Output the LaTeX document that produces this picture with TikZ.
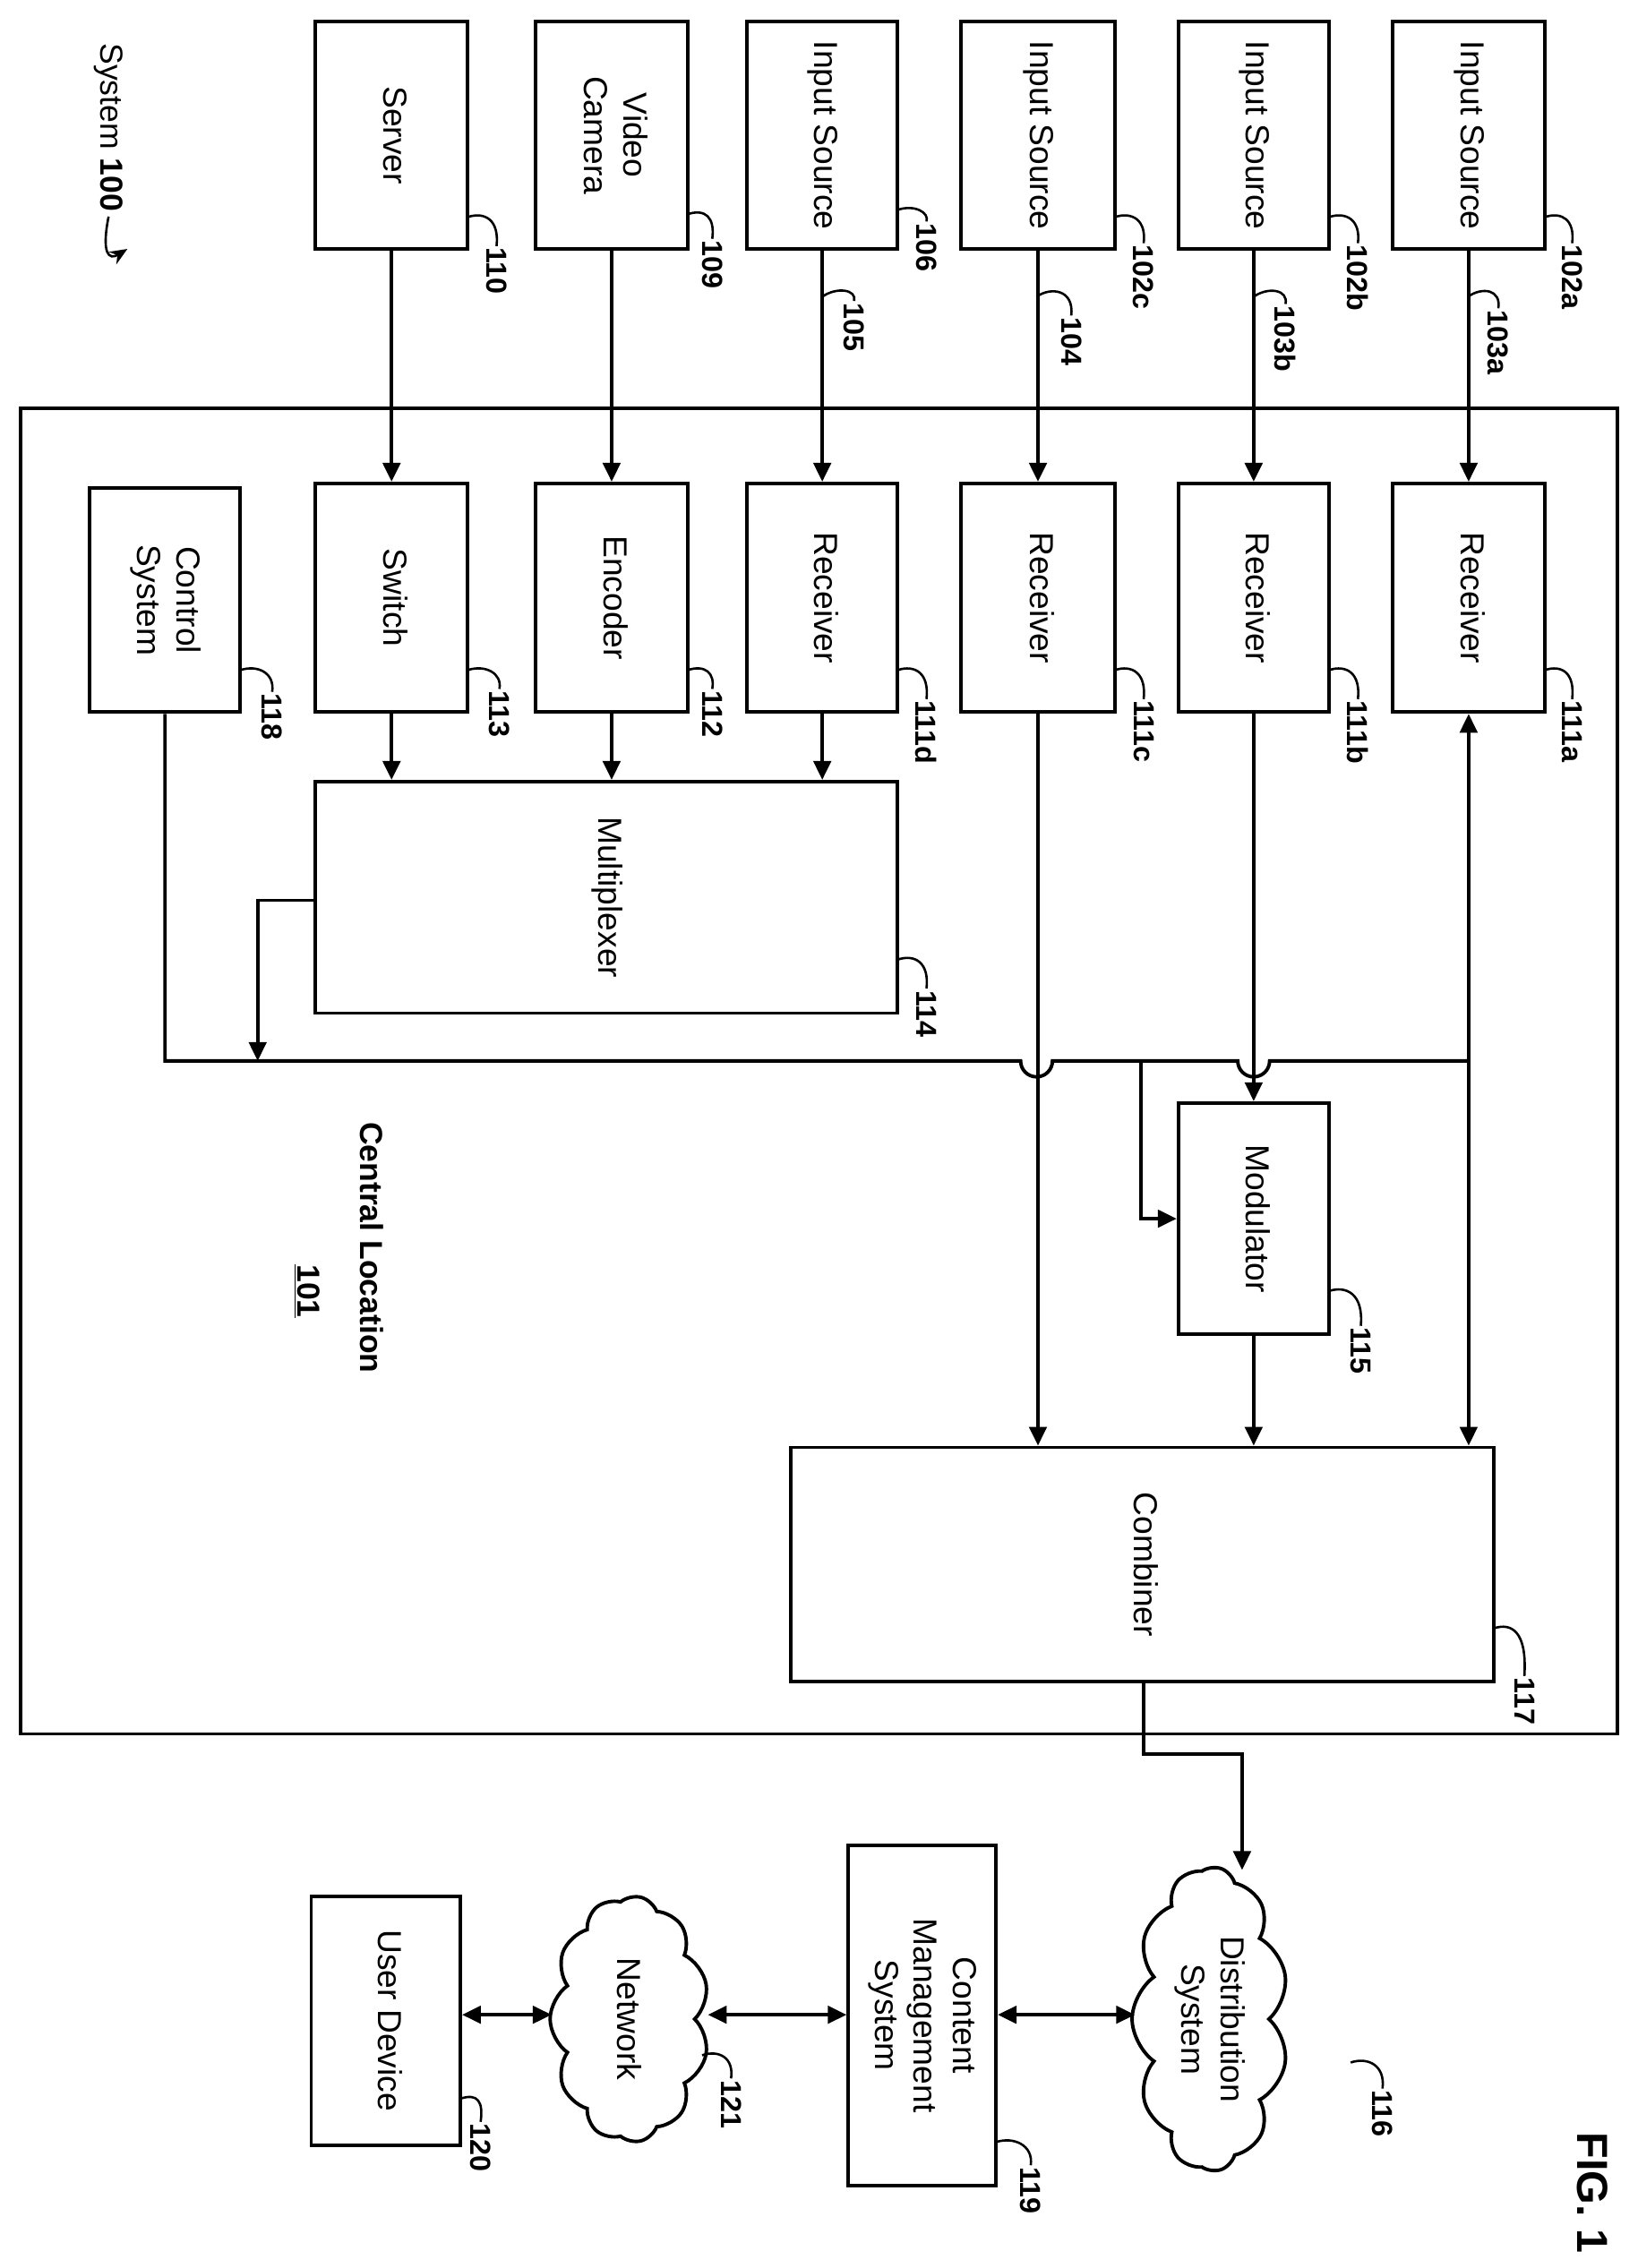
\documentclass[tikz,border=0pt]{standalone}
\usepackage{fontspec}
\setmainfont{Liberation Sans}
\usetikzlibrary{arrows.meta,shapes.symbols}
\begin{document}
\begin{tikzpicture}[x=1pt,y=-1pt,
  box/.style={draw,line width=2.4pt,inner sep=0pt,font=\fontsize{23}{27}\selectfont},
  num/.style={rotate=-90,font=\bfseries\fontsize{20}{22}\selectfont,inner sep=1pt},
  lead/.style={line width=1.6pt},
  ln/.style={line width=2.4pt},
  arr/.style={line width=2.4pt,-{Triangle[length=13pt,width=12pt]}},
  darr/.style={line width=2.4pt,{Triangle[length=13pt,width=12pt]}-{Triangle[length=13pt,width=12pt]}},
  cl/.style={draw,cloud,cloud puffs=11,cloud puff arc=110,line width=2.4pt,inner sep=0pt,outer sep=0pt},
  ct/.style={font=\fontsize{23}{27}\selectfont,align=center,rotate=-90}]
\useasboundingbox (0,0) rectangle (1131,1567);
\newcommand{\rt}[1]{\rotatebox{-90}{\begin{tabular}{@{}c@{}}#1\end{tabular}}}
% frame
\node[draw,line width=2.4pt,minimum width=1103pt,minimum height=916pt] (frame) at (565.5,740) {};
% top boxes
\node[box,minimum width=105pt,minimum height=157pt] (server) at (270.5,93.5) {\rt{Server}};
\node[box,minimum width=105pt,minimum height=157pt] (cam) at (422.5,93.5) {\rt{Video\\Camera}};
\node[box,minimum width=104pt,minimum height=157pt] (is106) at (568,93.5) {\rt{Input Source}};
\node[box,minimum width=106pt,minimum height=157pt] (is102c) at (717,93.5) {\rt{Input Source}};
\node[box,minimum width=104pt,minimum height=157pt] (is102b) at (866,93.5) {\rt{Input Source}};
\node[box,minimum width=105pt,minimum height=157pt] (is102a) at (1014.5,93.5) {\rt{Input Source}};
% second row
\node[box,minimum width=105pt,minimum height=158pt] (switch) at (270.5,413) {\rt{Switch}};
\node[box,minimum width=105pt,minimum height=158pt] (enc) at (422.5,413) {\rt{Encoder}};
\node[box,minimum width=104pt,minimum height=158pt] (r111d) at (568,413) {\rt{Receiver}};
\node[box,minimum width=106pt,minimum height=158pt] (r111c) at (717,413) {\rt{Receiver}};
\node[box,minimum width=104pt,minimum height=158pt] (r111b) at (866,413) {\rt{Receiver}};
\node[box,minimum width=105pt,minimum height=158pt] (r111a) at (1014.5,413) {\rt{Receiver}};
\node[box,minimum width=104pt,minimum height=155pt] (ctrl) at (114,414.5) {\rt{Control\\System}};
\node[box,minimum width=402pt,minimum height=160pt] (mux) at (419,620) {\rt{Multiplexer}};
\node[box,minimum width=104pt,minimum height=160pt] (mod) at (866,842) {\rt{Modulator}};
\node[box,minimum width=486pt,minimum height=162pt] (comb) at (789,1081) {\rt{Combiner}};
% bottom
\node[cl,minimum width=210pt,minimum height=108pt,rotate=90] (dist) at (836,1395) {};
\node[ct] (distt) at (836,1395) {Distribution\\System};
\node[box,minimum width=102pt,minimum height=235pt] (cms) at (637,1392.5) {\rt{Content\\Management\\System}};
\node[cl,minimum width=170pt,minimum height=110pt,rotate=90] (net) at (435,1395) {};
\node[ct] (nett) at (435,1395) {Network};
\node[box,minimum width=103pt,minimum height=172pt] (ud) at (266.5,1396) {\rt{User Device}};
% texts
\node[rotate=-90,font=\fontsize{22}{26}\selectfont] (sys) at (75,88) {System \textbf{100}};
\draw[lead,-{Stealth[length=12pt,width=10pt]}] (sys.east) .. controls (70,175) and (75,180) .. (88,172);
\node[rotate=-90,font=\bfseries\fontsize{22}{26}\selectfont] (cen) at (257,862) {Central Location};
\node[rotate=-90,font=\bfseries\fontsize{22}{26}\selectfont] (c101) at (212,892) {\underline{101}};
\node[rotate=-90,font=\bfseries\fontsize{30}{34}\selectfont] (fig) at (1100,1515) {FIG. 1};
% arrows top to second
\foreach \a/\b in {server/switch,cam/enc,is106/r111d,is102c/r111c,is102b/r111b,is102a/r111a}
  \draw[arr] (\a) -- (\b);
\foreach \a in {switch,enc,r111d}
  \draw[arr] (\a) -- (\a |- mux.north);
% bus
\draw[ln] (ctrl.south) -- (114,733) -- (705,733) arc[start angle=180,end angle=0,radius=11] -- (855,733) arc[start angle=180,end angle=0,radius=11] -- (1014,733);
\draw[arr] (r111c) -- (r111c |- comb.north);
\draw[arr] (r111b) -- (mod);
\draw[darr] (r111a) -- (r111a |- comb.north);
\coordinate (bt) at (788,733);
\draw[arr] (bt) -- (788,842) -- (mod.west |- 0,842);
\draw[arr] (mux.west |- 0,622) -- (178,622) -- (178,733);
\draw[arr] (mod) -- (mod |- comb.north);
\draw[arr] (comb.south -| 790,0) -- (790,1212) -- (858,1212) -- (858,1292);
\draw[darr] (cms.east |- 0,1392) -- (784,1392);
\draw[darr] (cms.west |- 0,1392) -- (489,1392);
\draw[darr] (ud.east |- 0,1392) -- (381,1392);
% labels
\foreach \n/\x/\y/\sx/\sy in {110/343/192/323/150, 109/492/187/475/148, 106/640/175/620/145, 102c/790/190/770/150, 102b/938/190/918/150, 102a/1086/190/1067/150,
  111d/640/505/620/463, 111c/790/505/770/463, 111b/938/505/918/463, 111a/1086/505/1067/463, 112/492/498/475/463, 113/345/498/323/463, 118/188/500/166/463,
  114/640/705/620/663, 115/940/938/918/892, 117/1053/1180/1032/1125, 116/955/1465/933/1425, 119/712/1518/688/1480, 121/505/1458/485/1420, 120/332/1488/318/1450}
{
  \node[num,anchor=west] (l\n) at (\x,\y-22) {\n};
  \draw[lead] (\sx,\sy) .. controls (\sx+12,\sy-4) and (\x+2,\sy+2) .. (l\n.west);
}
\foreach \n/\x/\y/\sx in {105/590/230/568, 104/740/240/716, 103b/888/232/866, 103a/1035/235/1014}
{
  \node[num,anchor=west] (l\n) at (\x,\y-22) {\n};
  \draw[lead] (\sx,205) .. controls (\sx+10,198) and (\x+2,200) .. (l\n.west);
}
\end{tikzpicture}
\end{document}
